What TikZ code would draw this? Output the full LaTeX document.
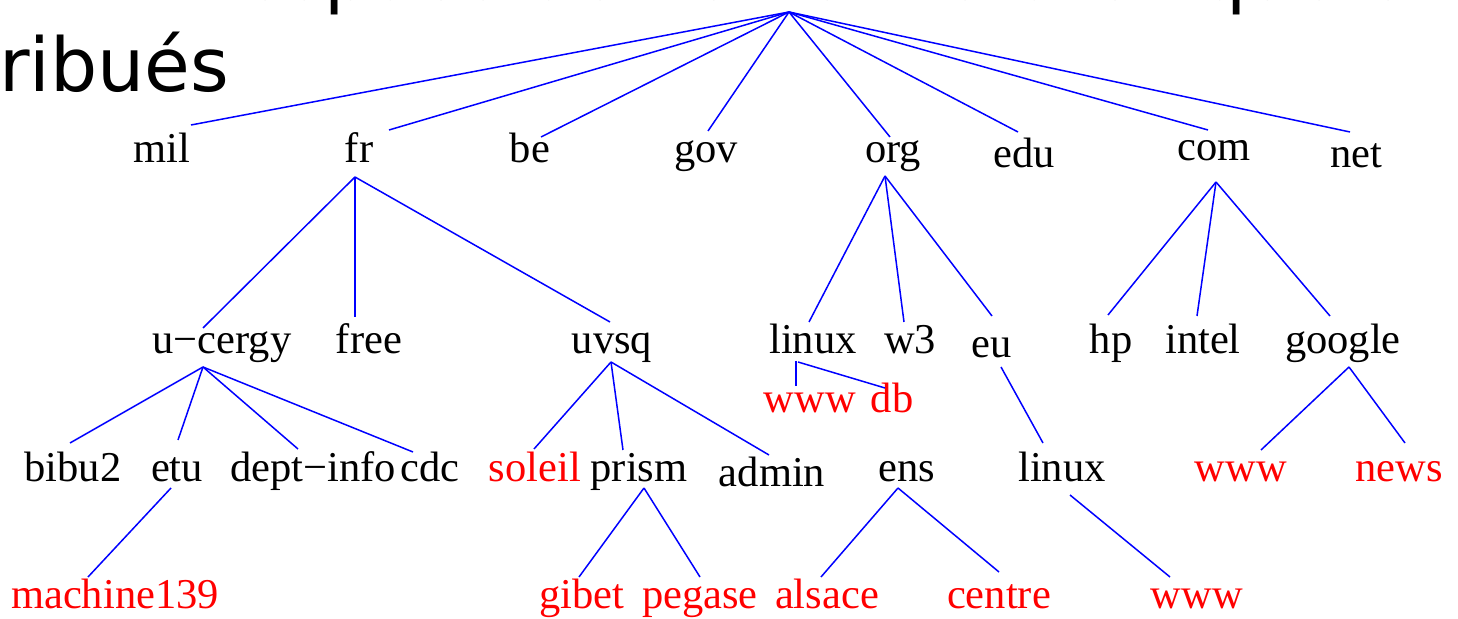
\documentclass[tikz,border=0pt]{standalone}
\usepackage{fontspec}
\setmainfont{Liberation Serif}
\newfontfamily\titlefont{DejaVu Sans}
\usetikzlibrary{calc}
\tikzset{
  lbl/.style={inner sep=0pt, anchor=base, text=black, font=\fontsize{21.25}{25}\selectfont},
  leaf/.style={lbl, text=red},
  edge/.style={draw=blue, line width=0.75pt},
  ttl/.style={inner sep=0pt, anchor=base west, font=\titlefont\fontsize{37.2}{46}\selectfont},
}
\begin{document}
\begin{tikzpicture}[x=0.5pt,y=-0.5pt]
\useasboundingbox (0,0) rectangle (1458,619);
\clip (0,0) rectangle (1458,619);
% title (cut off)
\node[ttl] (t1) at (240,0) {espace de noms hiérarchique et};
\node[ttl] (t2) at (-137,92) {distribués};
% root
\coordinate (root) at (789,12);
% level 1
\node[lbl] (mil) at (162,163) {mil};
\node[lbl] (fr)  at (359,163) {fr};
\node[lbl] (be)  at (530,163) {be};
\node[lbl] (gov) at (706,163) {gov};
\node[lbl] (org) at (893,163) {org};
\node[lbl] (edu) at (1024,168) {edu};
\node[lbl] (com) at (1214,161) {com};
\node[lbl] (net) at (1356,168) {net};
% level 2
\node[lbl] (ucergy) at (222,354) {u−cergy};
\node[lbl] (free)   at (369,354) {free};
\node[lbl] (uvsq)   at (612,354) {uvsq};
\node[lbl] (linux)  at (813,354) {linux};
\node[lbl] (w3)     at (910,354) {w3};
\node[lbl] (eu)     at (992,358) {eu};
\node[lbl] (hp)     at (1111,354) {hp};
\node[lbl] (intel)  at (1203,354) {intel};
\node[lbl] (google) at (1343,354) {google};
\node[leaf] (wwwa)  at (810,413) {www};
\node[leaf] (db)    at (892,413) {db};
% level 3
\node[lbl] (bibu)   at (73,482) {bibu2};
\node[lbl] (etu)    at (177,482) {etu};
\node[lbl] (dept)   at (313,482) {dept−info};
\node[lbl] (cdc)    at (430,482) {cdc};
\node[leaf] (soleil) at (535,482) {soleil};
\node[lbl] (prism)  at (639,482) {prism};
\node[lbl] (admin)  at (772,487) {admin};
\node[lbl] (ens)    at (907,482) {ens};
\node[lbl] (linuxb) at (1062,482) {linux};
\node[leaf] (wwwb)  at (1241,482) {www};
\node[leaf] (news)  at (1399,482) {news};
% level 4
\node[leaf] (machine) at (115,609) {machine139};
\node[leaf] (gibet)   at (582,609) {gibet};
\node[leaf] (pegase)  at (700,609) {pegase};
\node[leaf] (alsace)  at (827,609) {alsace};
\node[leaf] (centre)  at (999,609) {centre};
\node[leaf] (wwwc)    at (1197,609) {www};
% out points
\coordinate (fr-o)     at ($(fr.base)+(-4,14)$);
\coordinate (org-o)    at ($(org.base)+(-8,13)$);
\coordinate (com-o)    at ($(com.base)+(2,21)$);
\coordinate (ucergy-o) at ($(ucergy.base)+(-19,13)$);
\coordinate (uvsq-o)   at ($(uvsq.base)+(-1,8)$);
\coordinate (linux-o)  at ($(linux.base)+(-17,7)$);
\coordinate (eu-o)     at ($(eu.base)+(9,9)$);
\coordinate (google-o) at ($(google.base)+(6,13)$);
\coordinate (etu-o)    at ($(etu.base)+(-6,6)$);
\coordinate (prism-o)  at ($(prism.base)+(5,6)$);
\coordinate (ens-o)    at ($(ens.base)+(-9,6)$);
\coordinate (linuxb-o) at ($(linuxb.base)+(8,13)$);
% root edges
\draw[edge] (root) -- ($(mil.base)+(29,-38)$);
\draw[edge] (root) -- ($(fr.base)+(30,-33)$);
\draw[edge] (root) -- ($(be.base)+(11,-26)$);
\draw[edge] (root) -- ($(gov.base)+(2,-32)$);
\draw[edge] (root) -- ($(org.base)+(-3,-26)$);
\draw[edge] (root) -- ($(edu.base)+(-6,-36)$);
\draw[edge] (root) -- ($(com.base)+(-6,-31)$);
\draw[edge] (root) -- ($(net.base)+(-6,-36)$);
% fr
\draw[edge] (fr-o) -- ($(ucergy.base)+(-19,-26)$);
\draw[edge] (fr-o) -- ($(free.base)+(-14,-37)$);
\draw[edge] (fr-o) -- ($(uvsq.base)+(-2,-32)$);
% u-cergy
\draw[edge] (ucergy-o) -- ($(bibu.base)+(-3,-39)$);
\draw[edge] (ucergy-o) -- ($(etu.base)+(1,-42)$);
\draw[edge] (ucergy-o) -- ($(dept.base)+(-15,-33)$);
\draw[edge] (ucergy-o) -- ($(cdc.base)+(-17,-30)$);
\draw[edge] (etu-o) -- ($(machine.base)+(-27,-32)$);
% uvsq
\draw[edge] (uvsq-o) -- ($(soleil.base)+(-1,-33)$);
\draw[edge] (uvsq-o) -- ($(prism.base)+(-16,-32)$);
\draw[edge] (uvsq-o) -- ($(admin.base)+(-3,-32)$);
\draw[edge] (prism-o) -- ($(gibet.base)+(-3,-32)$);
\draw[edge] (prism-o) -- ($(pegase.base)+(0,-32)$);
% org
\draw[edge] (org-o) -- ($(linux.base)+(-4,-32)$);
\draw[edge] (org-o) -- ($(w3.base)+(-6,-32)$);
\draw[edge] (org-o) -- ($(eu.base)+(0,-42)$);
\draw[edge] (linux-o) -- ($(wwwa.base)+(-14,-27)$);
\draw[edge] ($(linux-o)+(2,1)$) -- ($(db.base)+(-7,-25)$);
\draw[edge] (eu-o) -- ($(linuxb.base)+(-19,-39)$);
\draw[edge] (linuxb-o) -- ($(wwwc.base)+(-27,-32)$);
\draw[edge] (ens-o) -- ($(alsace.base)+(-6,-32)$);
\draw[edge] (ens-o) -- ($(centre.base)+(0,-37)$);
% com
\draw[edge] (com-o) -- ($(hp.base)+(-3,-39)$);
\draw[edge] (com-o) -- ($(intel.base)+(-6,-38)$);
\draw[edge] (com-o) -- ($(google.base)+(-13,-38)$);
\draw[edge] (google-o) -- ($(wwwb.base)+(20,-32)$);
\draw[edge] (google-o) -- ($(news.base)+(6,-39)$);
\end{tikzpicture}
\end{document}
